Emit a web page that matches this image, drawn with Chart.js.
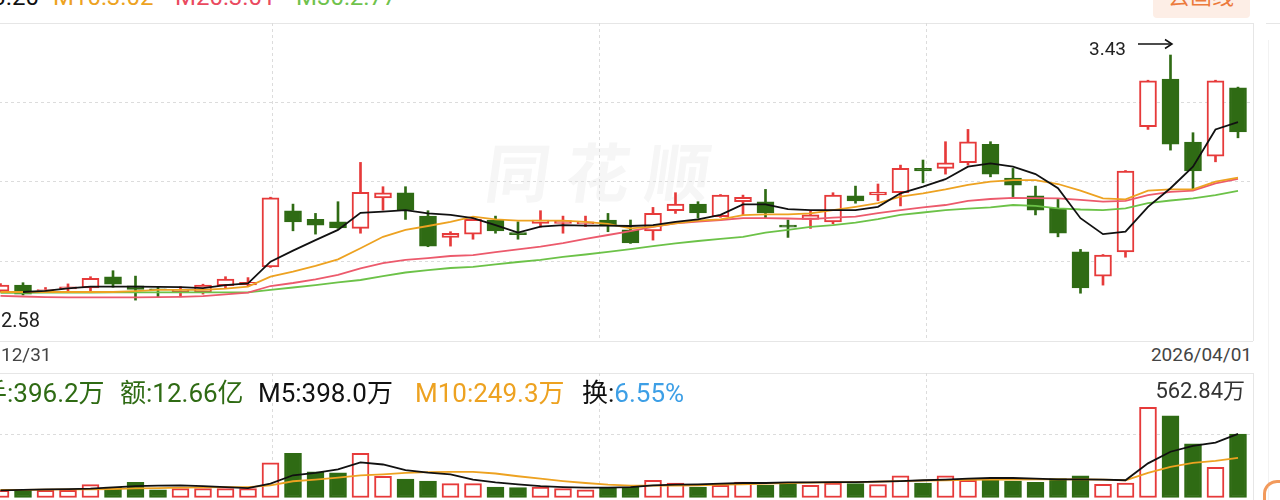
<!DOCTYPE html>
<html>
<head>
<meta charset="utf-8">
<script src="https://cdn.jsdelivr.net/npm/chart.js@4"></script>
<style>
  body { margin: 0; width: 1280px; height: 500px; overflow: hidden; background: #fff; position: relative;
         font-family: Roboto, "Noto Sans CJK SC", sans-serif; }
  .abs { position: absolute; white-space: nowrap; }
  .hline { position: absolute; height: 0; border-top: 1px solid #e6e6e6; }
  .vline { position: absolute; width: 0; border-left: 1px solid #e6e6e6; }
  canvas { position: absolute; }
</style>
</head>
<body>

<!-- header legend, cut by the top edge -->
<div class="abs" style="top:-15px;left:0;font-size:24px;line-height:24px;">
  <span class="abs" style="left:-48px;color:#111;">M5:3.20</span>
  <span class="abs" style="left:53px;color:#eda221;">M10:3.02</span>
  <span class="abs" style="left:175px;color:#ea4a5f;">M20:3.01</span>
  <span class="abs" style="left:296px;color:#6fc24c;">M30:2.77</span>
</div>
<div class="abs" style="left:1153px;top:-10px;width:97px;height:28px;background:#fdeee6;border-radius:4px;"></div>
<div class="abs" style="left:1168px;top:-14px;font-size:22px;line-height:22px;color:#ec7a3c;">去画线</div>

<!-- panel frames -->
<div class="hline" style="left:0;top:23px;width:1253px;"></div>
<div class="hline" style="left:1266px;top:23px;width:14px;"></div>
<div class="hline" style="left:0;top:341px;width:1253px;"></div>
<div class="vline" style="left:1253px;top:23px;height:318px;"></div>
<div class="hline" style="left:0;top:373px;width:1253px;"></div>
<div class="vline" style="left:1253px;top:373px;height:127px;"></div>
<div class="vline" style="left:1268px;top:40px;height:460px;border-color:#f2f2f2;"></div>

<!-- watermark -->
<div class="abs" style="left:486px;top:136px;font-size:64px;line-height:80px;font-weight:700;color:#f6f6f6;letter-spacing:16px;transform:skewX(-8deg);">同花顺</div>

<canvas id="kline" width="1308" height="318" style="left:-55px;top:23px;"></canvas>
<canvas id="vol" width="1308" height="125" style="left:-55px;top:373px;"></canvas>

<!-- price annotations -->
<div class="abs" style="left:1089px;top:39px;font-size:19px;line-height:19px;color:#222;">3.43</div>
<svg class="abs" style="left:1138px;top:38px;" width="36" height="12">
  <line x1="0" y1="6" x2="34" y2="6" stroke="#111" stroke-width="1.5"/>
  <polyline points="27,1.5 34,6 27,10.5" fill="none" stroke="#111" stroke-width="1.5"/>
</svg>
<div class="abs" style="left:1px;top:310px;font-size:20px;line-height:20px;color:#222;">2.58</div>
<div class="abs" style="left:1px;top:345px;font-size:19px;line-height:19px;color:#444;">12/31</div>
<div class="abs" style="right:28px;top:345px;font-size:19px;line-height:19px;color:#444;">2026/04/01</div>

<!-- volume legend -->
<div class="abs" style="top:380px;left:0;font-size:26px;line-height:26px;">
  <span class="abs" style="left:-45px;color:#2f6b14;">总手:396.2万</span>
  <span class="abs" style="left:120px;color:#2f6b14;">额:12.66亿</span>
  <span class="abs" style="left:258px;color:#111;">M5:398.0万</span>
  <span class="abs" style="left:415px;color:#eda221;">M10:249.3万</span>
  <span class="abs" style="left:582px;color:#111;">换:<span style="color:#3d9fe6;">6.55%</span></span>
</div>
<div class="abs" style="right:35px;top:380px;font-size:22px;line-height:22px;color:#333;">562.84万</div>
<div class="abs" style="left:1263px;top:480px;width:30px;height:30px;border-top:3px solid #f29a5c;border-left:3px solid #f29a5c;border-radius:14px 0 0 0;"></div>

<script>
// daily candles, oldest first
const opens  = [2.643,2.663,2.645,2.650,2.654,2.691,2.661,2.651,2.641,2.639,2.661,2.664,2.724,2.911,2.882,2.874,2.852,2.954,2.971,2.893,
                2.822,2.833,2.880,2.838,2.869,2.869,2.867,2.880,2.847,2.844,2.911,2.933,2.891,2.941,2.941,2.863,2.882,2.874,2.961,2.964,
                2.971,3.052,3.052,3.071,3.132,3.020,2.961,2.919,2.774,2.693,2.774,3.191,3.350,3.140,3.093,3.321];
const highs  = [2.668,2.671,2.655,2.667,2.691,2.711,2.693,2.657,2.658,2.666,2.691,2.688,2.956,2.933,2.902,2.941,3.072,2.991,2.991,2.911,
                2.841,2.885,2.893,2.874,2.911,2.893,2.893,2.902,2.880,2.922,2.971,2.941,2.965,2.963,2.982,2.880,2.911,2.971,2.993,3.000,
                3.063,3.080,3.141,3.182,3.141,3.052,2.993,2.949,2.782,2.765,3.045,3.346,3.430,3.171,3.346,3.323];
const lows   = [2.640,2.630,2.638,2.643,2.644,2.656,2.613,2.623,2.624,2.633,2.654,2.661,2.722,2.844,2.833,2.852,2.836,2.913,2.882,2.791,
                2.793,2.816,2.836,2.816,2.856,2.836,2.858,2.841,2.802,2.813,2.902,2.886,2.889,2.897,2.886,2.822,2.852,2.867,2.936,2.944,
                2.927,3.004,3.033,3.063,3.024,2.958,2.897,2.824,2.636,2.663,2.756,3.182,3.113,2.982,3.074,3.154];
const closes = [2.663,2.633,2.648,2.657,2.686,2.666,2.649,2.648,2.649,2.663,2.683,2.672,2.954,2.874,2.863,2.854,2.972,2.971,2.913,2.793,
                2.836,2.882,2.844,2.831,2.880,2.878,2.874,2.860,2.804,2.902,2.933,2.904,2.963,2.956,2.904,2.856,2.897,2.963,2.944,2.973,
                3.052,3.044,3.071,3.141,3.033,2.996,2.913,2.836,2.654,2.763,3.043,3.344,3.133,3.044,3.344,3.174];

// moving averages
const ma5  = [null,2.640,2.644,2.652,2.658,2.658,2.658,2.657,2.656,2.653,2.663,2.669,2.741,2.778,2.813,2.847,2.904,2.908,2.913,2.902,
              2.897,2.886,2.863,2.838,2.858,2.863,2.861,2.861,2.860,2.863,2.874,2.882,2.897,2.932,2.932,2.916,2.913,2.913,2.913,2.924,
              2.969,2.991,3.016,3.058,3.069,3.058,3.033,2.986,2.886,2.833,2.841,2.924,2.986,3.058,3.182,3.206];
const ma10 = [2.640,2.640,2.640,2.640,2.640,2.640,2.643,2.647,2.647,2.647,2.651,2.658,2.691,2.708,2.727,2.749,2.786,2.824,2.847,2.860,
              2.874,2.891,2.882,2.878,2.878,2.878,2.874,2.867,2.852,2.858,2.869,2.878,2.882,2.896,2.899,2.899,2.902,2.913,2.924,2.936,
              2.958,2.969,2.982,2.997,3.008,3.013,3.013,3.000,2.978,2.952,2.949,2.978,2.982,2.982,3.008,3.021];
const ma20 = [2.627,2.625,2.623,2.622,2.622,2.622,2.622,2.623,2.624,2.626,2.632,2.638,2.660,2.670,2.682,2.697,2.719,2.736,2.747,2.753,
              2.760,2.763,2.773,2.782,2.791,2.803,2.817,2.830,2.843,2.857,2.869,2.875,2.880,2.886,2.886,2.885,2.883,2.888,2.891,2.903,
              2.913,2.922,2.930,2.944,2.950,2.954,2.953,2.952,2.947,2.941,2.944,2.963,2.974,2.978,3.002,3.017];
const ma30 = [2.637,2.637,2.638,2.638,2.638,2.639,2.639,2.639,2.639,2.639,2.639,2.639,2.647,2.655,2.663,2.672,2.680,2.693,2.705,2.713,
              2.720,2.724,2.732,2.740,2.747,2.757,2.765,2.774,2.783,2.793,2.802,2.810,2.817,2.824,2.838,2.847,2.857,2.863,2.871,2.883,
              2.897,2.905,2.913,2.918,2.922,2.930,2.927,2.919,2.915,2.913,2.919,2.936,2.945,2.952,2.963,2.977];

// volume, in 万手
const volumes = [47,47,47,47,83,68,97,51,58,58,58,58,218,277,162,156,277,135,118,105,
                 89,89,68,64,68,58,51,64,68,110,93,68,78,99,78,89,78,93,89,83,
                 137,93,137,110,110,105,97,120,137,85,93,562.84,510,336,190,396.2];
const volM5  = [47,50,53,55,58,66,74,77,78,74,68,61,89,141,156,177,221,208,173,158,
                147,114,97,85,74,68,64,64,68,78,83,85,89,93,93,97,97,99,99,102,
                105,110,114,120,124,124,120,116,116,114,110,215,287,323,344,398.0];
const volM10 = [51,51,52,53,53,56,60,61,64,66,67,68,78,104,114,127,141,147,156,160,
                162,162,152,135,120,105,93,83,77,77,77,78,83,85,89,93,95,97,99,102,
                105,108,110,112,114,114,116,116,116,114,110,156,193,218,231,249.3];

const RED = '#e63a3a', GREEN = '#2f6b14';
const xMin = -2.4667, xMax = 55.667;
const pMin = 2.4767, pMax = 3.5367;
const vMax = 775.7, vGrid = 391;

const idx = closes.map((_, i) => i);
const up = idx.map(i => closes[i] >= opens[i]);
const pts = arr => idx.map(i => ({ x: i, y: arr[i] }));

function evenTicks(n) {
  return s => {
    const t = [];
    for (let i = 0; i <= n; i++) t.push({ value: s.min + (s.max - s.min) * i / n });
    s.ticks = t;
  };
}
const innerGrid = ctx => (ctx.index === 0 || ctx.index === ctx.scale.ticks.length - 1) ? 'rgba(0,0,0,0)' : '#dcdcdc';

function axis(extra, horiz) {
  return Object.assign({
    offset: false,
    ticks: { display: false },
    grid: { color: innerGrid, drawTicks: false, lineWidth: 1, offset: false },
    border: { display: false, dash: [3, 3] },
    afterFit: s => { if (horiz) s.height = 0; else s.width = 0; }
  }, extra);
}

function maLine(label, arr, color, order) {
  return { type: 'line', label, data: pts(arr), borderColor: color, borderWidth: 1.8,
           pointRadius: 0, tension: 0, order, spanGaps: true };
}

new Chart(document.getElementById('kline'), {
  type: 'bar',
  data: {
    datasets: [
      maLine('MA5', ma5, '#111111', 0),
      maLine('MA10', ma10, '#eda221', 1),
      maLine('MA20', ma20, '#ec5a6c', 2),
      maLine('MA30', ma30, '#6cc248', 3),
      {
        label: 'body',
        data: idx.map(i => ({ x: i, y: [opens[i], closes[i]] })),
        backgroundColor: idx.map(i => up[i] ? '#ffffff' : GREEN),
        borderColor: idx.map(i => up[i] ? RED : GREEN),
        borderWidth: 2, borderSkipped: false, barThickness: 17, grouped: false, order: 5
      },
      {
        label: 'wick',
        data: idx.map(i => ({ x: i, y: [lows[i], highs[i]] })),
        backgroundColor: idx.map(i => up[i] ? RED : GREEN),
        borderWidth: 0, barThickness: 2, grouped: false, order: 6
      }
    ]
  },
  options: {
    responsive: false, animation: false,
    layout: { padding: 0, autoPadding: false },
    plugins: { legend: { display: false }, tooltip: { enabled: false } },
    scales: {
      x: axis({ type: 'linear', min: xMin, max: xMax, afterBuildTicks: evenTicks(4) }, true),
      y: axis({ type: 'linear', min: pMin, max: pMax, afterBuildTicks: evenTicks(4) }, false)
    }
  }
});

new Chart(document.getElementById('vol'), {
  type: 'bar',
  data: {
    datasets: [
      maLine('M5', volM5, '#111111', 0),
      maLine('M10', volM10, '#eda221', 1),
      {
        label: 'vol',
        data: pts(volumes),
        backgroundColor: idx.map(i => up[i] ? '#ffffff' : GREEN),
        borderColor: idx.map(i => up[i] ? RED : GREEN),
        borderWidth: 2, borderSkipped: false, barThickness: 17, grouped: false, order: 5
      }
    ]
  },
  options: {
    responsive: false, animation: false,
    layout: { padding: 0, autoPadding: false },
    plugins: { legend: { display: false }, tooltip: { enabled: false } },
    scales: {
      x: axis({ type: 'linear', min: xMin, max: xMax, afterBuildTicks: evenTicks(4) }, true),
      y: axis({ type: 'linear', min: 0, max: vMax,
                afterBuildTicks: s => { s.ticks = [{ value: 0 }, { value: vGrid }, { value: vMax }]; } }, false)
    }
  }
});
</script>
</body>
</html>
